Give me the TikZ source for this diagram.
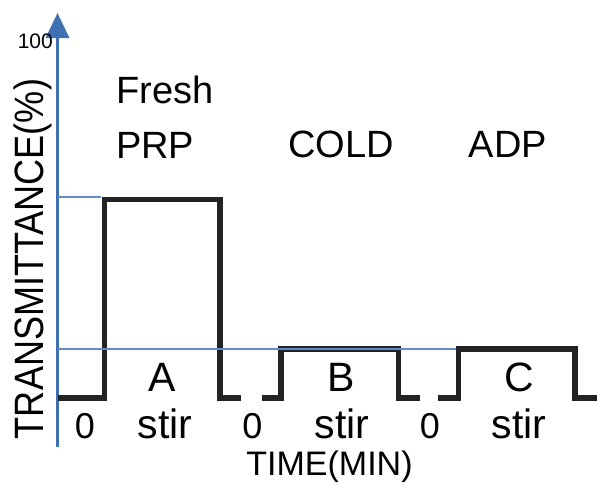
\documentclass[tikz,border=0pt]{standalone}
\usepackage{fontspec}
\setmainfont{Liberation Sans}
\usetikzlibrary{arrows.meta}
\definecolor{axisblue}{RGB}{62,112,178}
\definecolor{guideblue}{RGB}{96,138,200}
\definecolor{tracegray}{RGB}{35,35,35}
\newcommand{\fs}[1]{\fontsize{#1}{#1}\selectfont}
\begin{document}
\begin{tikzpicture}[x=1pt,y=-1pt,
  axisline/.style={draw=axisblue, line width=3.5pt,
    -{Triangle[length=25pt,width=23pt]}},
  guide/.style={draw=guideblue, line width=1.3pt},
  trace/.style={draw=tracegray, line width=5.5pt, line join=miter, line cap=butt},
  lbl/.style={inner sep=0pt, anchor=base, text=black}]
\useasboundingbox (0,0) rectangle (597,483);

% axis
\coordinate (origin) at (57.5,447);
\coordinate (ytop) at (57.5,13);
\draw[axisline] (origin) -- (ytop);
\node[lbl, anchor=base east] (hundred) at (53,48) {\fs{21}100};
\node[lbl, rotate=90] (ytitle) at (43,259)
  {\scalebox{0.88}[1]{\fs{41}TRANSMITTANCE(\%)}};

% response trace: fresh PRP, cold, ADP
\draw[trace] (58,398) -- (104.5,398) -- (104.5,199.5) -- (220,199.5)
  -- (220,398) -- (241,398);
\draw[trace] (262,398) -- (281,398) -- (281,349) -- (398.5,349)
  -- (398.5,398) -- (420,398);
\draw[trace] (438,398) -- (458.5,398) -- (458.5,349) -- (575,349)
  -- (575,398) -- (597,398);

% reference levels
\coordinate (hiLeft) at (58,197);
\coordinate (hiRight) at (101,197);
\coordinate (loLeft) at (58,349);
\coordinate (loRight) at (456,349);
\draw[guide] (hiLeft) -- (hiRight);
\draw[guide] (loLeft) -- (loRight);

% stage headings
\node[lbl, anchor=base west] (fresh) at (116,103) {\fs{38}Fresh};
\node[lbl, anchor=base west] (prp) at (116,158) {\fs{38}PRP};
\node[lbl] (cold) at (341,157) {\fs{38}COLD};
\node[lbl] (adp) at (508,157) {\fs{38}ADP};

% stage letters
\node[lbl] (la) at (162,391) {\fs{41}A};
\node[lbl] (lb) at (341,391) {\fs{41}B};
\node[lbl] (lc) at (519,391) {\fs{41}C};

% time marks
\node[lbl] (z1) at (85,438) {\fs{36}0};
\node[lbl] (z2) at (252.5,438) {\fs{36}0};
\node[lbl] (z3) at (430,438) {\fs{36}0};
\node[lbl] (s1) at (165,438) {\fs{41}stir};
\node[lbl] (s2) at (342,438) {\fs{41}stir};
\node[lbl] (s3) at (519,438) {\fs{41}stir};

\node[lbl] (xtitle) at (329.5,475) {\fs{34}TIME(MIN)};
\end{tikzpicture}
\end{document}
